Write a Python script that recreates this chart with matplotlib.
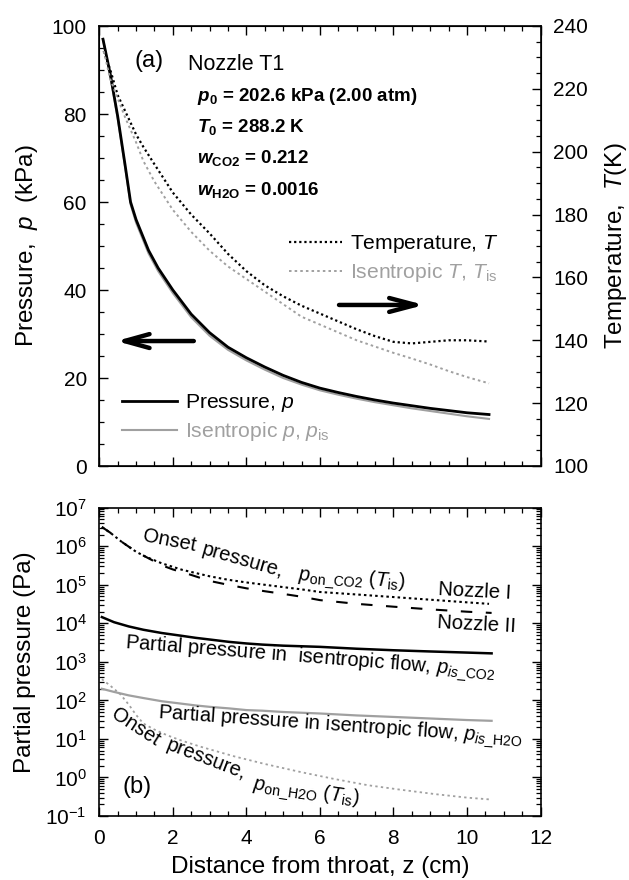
import matplotlib
matplotlib.use("Agg")
import matplotlib.pyplot as plt
from matplotlib.ticker import MultipleLocator, LogLocator, NullFormatter
import numpy as np

plt.rcParams['font.family'] = ['Liberation Sans', 'DejaVu Sans']
plt.rcParams['mathtext.fontset'] = 'custom'
plt.rcParams['mathtext.rm'] = 'Liberation Sans'
plt.rcParams['mathtext.it'] = 'Liberation Sans:italic'
plt.rcParams['mathtext.bf'] = 'Liberation Sans:bold'
try:
    plt.rcParams['mathtext.bfit'] = 'Liberation Sans:italic:bold'
except Exception:
    pass

# ---------------- data (a) ----------------
z_p = [0.1, 0.3, 0.5, 0.7, 0.85, 1.0, 1.34, 1.6, 2.0, 2.5, 3.0, 3.5, 4.0, 4.5,
       5.0, 5.5, 6.0, 6.5, 7.0, 7.5, 8.0, 8.5, 9.0, 9.5, 10.0, 10.6]
p_meas = [97, 89, 79.5, 68.5, 60, 56, 49, 45, 40, 34.5, 30.3, 27, 24.6, 22.5,
          20.6, 19.0, 17.7, 16.7, 15.8, 15.0, 14.3, 13.7, 13.1, 12.6, 12.1, 11.7]
p_isen = [97, 88.5, 79, 68, 59.5, 55.3, 48.3, 44.3, 39.3, 33.8, 29.6, 26.4, 24.0, 21.9,
          20.0, 18.5, 17.2, 16.2, 15.3, 14.5, 13.8, 13.1, 12.5, 11.9, 11.3, 10.7]

z_T = [0.12, 0.3, 0.5, 0.7, 1.0, 1.2, 1.5, 2.0, 2.5, 3.0, 3.5, 4.0, 4.5, 5.0,
       5.5, 6.0, 6.5, 7.0, 7.5, 8.0, 8.5, 9.0, 9.5, 10.0, 10.6]
T_meas = [232, 226, 218, 213, 205.5, 201.5, 196, 187, 180, 174, 167.5, 162, 157.5, 154,
          151, 148.5, 146, 143.5, 141.3, 139.5, 139, 139.5, 140, 140, 139.6]
T_isen = [232, 223, 217, 211, 203, 197, 190.5, 181.5, 174.5, 168.5, 163.5, 159.5, 155.5, 151.5,
          147.5, 145, 142.5, 140, 138, 136, 134.2, 132.3, 130.2, 128.3, 126.3]

# ---------------- data (b) ----------------
z_on1 = [0.07, 0.3, 0.6, 1.0, 1.25, 1.7, 2.25, 2.5, 3.0, 3.5, 4.0, 4.5, 5.0, 5.5,
         6.0, 7.0, 8.0, 9.0, 10.0, 10.6]
p_on_co2_I = [3.16e6, 2.24e6, 1.32e6, 7.2e5, 5.4e5, 3.6e5, 2.45e5, 2.15e5, 1.66e5, 1.35e5,
              1.15e5, 1.0e5, 8.7e4, 7.6e4, 6.5e4, 5.6e4, 4.8e4, 4.1e4, 3.5e4, 3.2e4]
z_on2 = [0.07, 0.3, 0.6, 1.0, 1.25, 1.7, 2.0, 2.5, 3.0, 3.5, 4.0, 4.5, 5.0, 5.5,
         6.0, 7.0, 8.0, 9.0, 10.0, 10.67]
p_on_co2_II = [3.16e6, 2.24e6, 1.32e6, 7.2e5, 5.4e5, 3.2e5, 2.5e5, 1.8e5, 1.26e5, 1.0e5,
               8.1e4, 6.8e4, 5.8e4, 4.9e4, 4.0e4, 3.2e4, 2.7e4, 2.3e4, 2.0e4, 1.86e4]
z_is = [0.07, 0.4, 0.8, 1.2, 1.7, 2.2, 2.62, 3.0, 3.53, 4.0, 4.44, 5.0, 6.0, 7.0,
        8.0, 9.0, 10.0, 10.67]
p_is_co2 = [1.45e4, 1.07e4, 8.3e3, 6.8e3, 5.6e3, 4.8e3, 4.2e3, 3.8e3, 3.3e3, 3.0e3,
            2.8e3, 2.63e3, 2.45e3, 2.19e3, 2.0e3, 1.86e3, 1.74e3, 1.66e3]
p_is_h2o = [200, 166, 135, 115, 95, 83, 74, 68, 62, 56, 54, 50, 45.7, 40.7,
            37.2, 33.9, 30.9, 29.5]
z_onh = [0.07, 0.3, 0.57, 0.8, 1.0, 1.2, 1.5, 1.84, 2.2, 2.75, 3.66, 4.5, 5.48, 6.4,
         7.3, 8.2, 9.13, 10.0, 10.6]
p_on_h2o = [355, 240, 145, 78, 42, 25, 17.5, 12.5, 9.3, 6.3, 3.55, 2.24, 1.38, 0.91,
            0.63, 0.48, 0.37, 0.30, 0.27]

GRAY = '#a0a0a0'
FS_TICK = 15
FS_LAB = 17.5
FS_TXT = 14.5
FS_LEG = 15.2

fig = plt.figure(figsize=(6.29, 8.8), dpi=100)
L, W = 99.3 / 629, 441.2 / 629
ax = fig.add_axes([L, 1 - 466 / 880, W, 440 / 880])
axb = fig.add_axes([L, 1 - 816 / 880, W, 308.3 / 880])

def fx(x):
    return (x - 99.3) / 441.2

def fyt(y):
    return (466 - y) / 440

def fyb(y):
    return (816 - y) / 308.3

def style_ticks(a, right=True):
    a.tick_params(which='both', direction='in', top=True, right=right, labelsize=FS_TICK)
    a.tick_params(which='major', length=6.5, width=1.0)
    a.tick_params(which='minor', length=3.6, width=0.9)
    for s in a.spines.values():
        s.set_linewidth(1.2)

# ---------------- panel (a) ----------------
ax.plot(z_p, p_isen, color=GRAY, lw=1.5)
ax.plot(z_p, p_meas, color='black', lw=2.0)
ax.set_xlim(0, 12)
ax.set_ylim(0, 100)
ax.xaxis.set_major_locator(MultipleLocator(2))
ax.xaxis.set_minor_locator(MultipleLocator(0.5))
ax.yaxis.set_major_locator(MultipleLocator(20))
ax.yaxis.set_minor_locator(MultipleLocator(5))
style_ticks(ax, right=False)
ax.tick_params(axis='x', labelbottom=False)
ax.tick_params(axis='y', pad=9)
ax.set_ylabel('Pressure,  $p$  (kPa)', fontsize=FS_LAB)
ax.yaxis.set_label_coords(fx(40), 0.5)

ax2 = ax.twinx()
lT, = ax2.plot(z_T, T_meas, color='black', lw=1.6, linestyle=(0, (1.0, 1.3)))
lTi, = ax2.plot(z_T, T_isen, color=GRAY, lw=1.4, linestyle=(0, (1.3, 1.6)))
ax2.set_ylim(100, 240)
ax2.yaxis.set_major_locator(MultipleLocator(20))
ax2.yaxis.set_minor_locator(MultipleLocator(5))
ax2.tick_params(which='both', direction='in', labelsize=FS_TICK, pad=9)
ax2.tick_params(which='major', length=6.5, width=1.0)
ax2.tick_params(which='minor', length=3.6, width=0.9)
ax2.set_ylabel('Temperature,  $T$(K)', fontsize=FS_LAB)
ax2.yaxis.set_label_coords(fx(603), 0.5)

# legends
hp = ax.get_lines()
legp = ax.legend([hp[1], hp[0]], ['Pressure, $p$', 'Isentropic $p$, $p_{\\rm is}$'],
                 loc='upper left', bbox_to_anchor=(fx(122), fyt(392)), frameon=False,
                 fontsize=FS_LEG, handlelength=2.6, handletextpad=0.4, labelspacing=0.3,
                 borderpad=0, borderaxespad=0)
legp.get_texts()[1].set_color(GRAY)
legT = ax2.legend([lT, lTi], ['Temperature, $T$', 'Isentropic $T$, $T_{\\rm is}$'],
                  loc='upper left', bbox_to_anchor=(fx(289), fyt(233)), frameon=False,
                  fontsize=FS_LEG, handlelength=2.5, handletextpad=0.4, labelspacing=0.3,
                  borderpad=0, borderaxespad=0)
legT.get_texts()[1].set_color(GRAY)

# arrows
ax.annotate('', xy=(8.84, 36.6), xytext=(6.52, 36.6),
            arrowprops=dict(arrowstyle='->,head_length=1.9,head_width=0.5', lw=3.2,
                            color='black', shrinkA=0, shrinkB=0, mutation_scale=10))
ax.annotate('', xy=(0.46, 28.4), xytext=(2.57, 28.4),
            arrowprops=dict(arrowstyle='->,head_length=1.8,head_width=0.5', lw=3.2,
                            color='black', shrinkA=0, shrinkB=0, mutation_scale=10))

ax.text(fx(135), fyt(67), '(a)', transform=ax.transAxes, fontsize=17, va='baseline')
ax.text(fx(188), fyt(70), 'Nozzle T1', transform=ax.transAxes, fontsize=15.5, va='baseline')
bold_fam = ['Liberation Sans Narrow', 'Liberation Sans', 'DejaVu Sans']
cond_lines = [
    (101, '$\\mathbfit{p}_{\\mathbf{0}}$ = 202.6 kPa (2.00 atm)'),
    (132, '$\\mathbfit{T}_{\\mathbf{0}}$ = 288.2 K'),
    (163, '$\\mathbfit{w}_{\\mathbf{CO2}}$ = 0.212'),
    (195, '$\\mathbfit{w}_{\\mathbf{H2O}}$ = 0.0016'),
]
for yy, s in cond_lines:
    ax.text(fx(197), fyt(yy), s, transform=ax.transAxes, fontsize=13.5,
            fontweight='bold', family=bold_fam, va='baseline')

# ---------------- panel (b) ----------------
axb.plot(z_on1, p_on_co2_I, color='black', lw=1.5, linestyle=(0, (1.2, 1.5)))
axb.plot(z_on2, p_on_co2_II, color='black', lw=1.5, linestyle=(0, (5.5, 6.5)))
axb.plot(z_is, p_is_co2, color='black', lw=1.8)
axb.plot(z_is, p_is_h2o, color=GRAY, lw=1.6)
axb.plot(z_onh, p_on_h2o, color=GRAY, lw=1.3, linestyle=(0, (1.3, 1.8)))
axb.set_yscale('log')
axb.set_xlim(0, 12)
axb.set_ylim(1e-1, 1e7)
axb.xaxis.set_major_locator(MultipleLocator(2))
axb.xaxis.set_minor_locator(MultipleLocator(0.5))
axb.yaxis.set_major_locator(LogLocator(base=10, numticks=20))
axb.yaxis.set_minor_locator(LogLocator(base=10, subs=np.arange(2, 10), numticks=20))
axb.yaxis.set_minor_formatter(NullFormatter())
style_ticks(axb)
axb.tick_params(axis='y', pad=9)
axb.tick_params(axis='x', pad=9)
axb.set_ylabel('Partial pressure (Pa)', fontsize=FS_LAB)
axb.yaxis.set_label_coords(fx(36), 0.5)
axb.set_xlabel('Distance from throat, z (cm)', fontsize=FS_LAB)
axb.xaxis.set_label_coords(0.5, fyb(856))
axb.xaxis.label.set_va('top')

def btxt(x, y, s, rot, size=FS_TXT):
    axb.text(fx(x), fyb(y), s, transform=axb.transAxes, fontsize=size, rotation=rot,
             rotation_mode='anchor', ha='left', va='baseline')

btxt(142, 541, 'Onset', -11)
btxt(201, 554, 'pressure,', -16)
btxt(298, 580, '$p_{\\rm on\\_CO2}$ ($T_{\\rm is}$)', -4)
btxt(438, 595, 'Nozzle I', -3)
btxt(437, 628, 'Nozzle II', -3)
btxt(125, 648, 'Partial pressure in  isentropic flow, $p_{is\\_{\\rm CO2}}$', -4.5)
btxt(158, 718, 'Partial pressure in isentropic flow, $p_{is\\_{\\rm H2O}}$', -4)
btxt(110, 717, 'Onset', -33)
btxt(165, 749, 'pressure,', -21)
btxt(252, 789, '$p_{\\rm on\\_H2O}$ ($T_{\\rm is}$)', -8)
axb.text(fx(123), fyb(793), '(b)', transform=axb.transAxes, fontsize=17, va='baseline')

fig.savefig('out.png', dpi=100)
